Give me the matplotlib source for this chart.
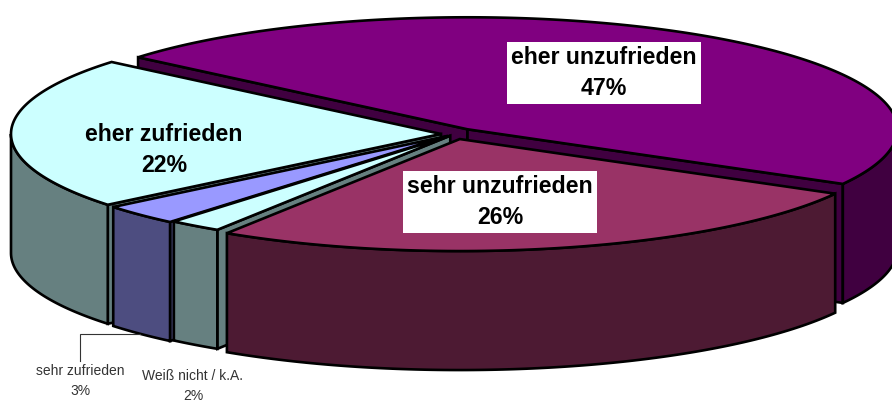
import numpy as np
import matplotlib
matplotlib.use("Agg")
import matplotlib.pyplot as plt
from matplotlib.patches import Polygon

plt.rcParams['font.family'] = ['Liberation Sans', 'DejaVu Sans']

# data (clockwise from the start angle)
categories = ["eher unzufrieden", "sehr unzufrieden", "Weiß nicht / k.A.", "sehr zufrieden", "eher zufrieden"]
values = [47, 26, 2, 3, 22]

# styling
top_colors = ["#800080", "#993366", "#CCFFFF", "#9999FF", "#CCFFFF"]
side_colors = ["#400040", "#4D1A33", "#668080", "#4D4D80", "#668080"]
explode = [22, 20, 8, 12, 14]
draw_order = [0, 4, 3, 2, 1]
label_pos = [(604, 73), (500, 202), (193, 386), (80, 381), (164, 150)]
label_big = [True, True, False, False, True]
label_box = [True, True, False, False, False]

START = 140.0
RX, RY, DEPTH = 430.0, 112.0, 119.0
BX, BY = 455.0, 134.0
LW = 1.9

fig = plt.figure(figsize=(8.92, 4.03), dpi=100)
ax = fig.add_axes([0, 0, 1, 1])
ax.set_xlim(0, 892)
ax.set_ylim(403, 0)
ax.axis("off")


def ell(cx, cy, t):
    t = np.radians(t)
    return np.column_stack([cx + RX * np.cos(t), cy - RY * np.sin(t)])


sweeps = np.array(values) / sum(values) * 360.0
starts = START - np.concatenate([[0], np.cumsum(sweeps)[:-1]])

for i in draw_order:
    t0, t1 = starts[i], starts[i] - sweeps[i]
    mid = np.radians((t0 + t1) / 2)
    cx = BX + explode[i] * np.cos(mid)
    cy = BY - explode[i] * np.sin(mid) * RY / RX
    apex = np.array([cx, cy])
    style = dict(edgecolor="black", linewidth=LW, joinstyle="miter")
    down = np.array([0, DEPTH])
    # radial faces that look towards the viewer
    for t, n in ((t0, t0 + 90), (t1, t1 - 90)):
        if np.sin(np.radians(n)) < 0:
            e = ell(cx, cy, t)[0]
            ax.add_patch(Polygon([apex, e, e + down, apex + down], facecolor=side_colors[i], **style))
    # outer rim: only the part in front
    for k in range(-1, 1):
        lo, hi = -180 + 360 * k, 0 + 360 * k
        a = max(t1, lo)
        b = min(t0, hi)
        if b > a:
            arc = ell(cx, cy, np.linspace(a, b, 120))
            ax.add_patch(Polygon(np.vstack([arc, (arc + down)[::-1]]), facecolor=side_colors[i], **style))
    # top
    arc = ell(cx, cy, np.linspace(t1, t0, 240))
    ax.add_patch(Polygon(np.vstack([apex, arc]), facecolor=top_colors[i], **style))

# leader line of the small label
ax.plot([140, 80, 80], [334, 334, 361], color="#333333", lw=0.8, solid_joinstyle="miter")

for name, v, pos, big, box in zip(categories, values, label_pos, label_big, label_box):
    kw = dict(ha="center", va="center", multialignment="center")
    if big:
        kw.update(fontsize=16.7, fontweight="bold", color="black", linespacing=1.47)
    else:
        kw.update(fontsize=10, color="#333333", linespacing=1.5)
    if box:
        kw["bbox"] = dict(facecolor="white", edgecolor="none", boxstyle="square,pad=0.17")
    ax.text(pos[0], pos[1], f"{name}\n{v}%", **kw)

fig.savefig("out.png", dpi=100)
